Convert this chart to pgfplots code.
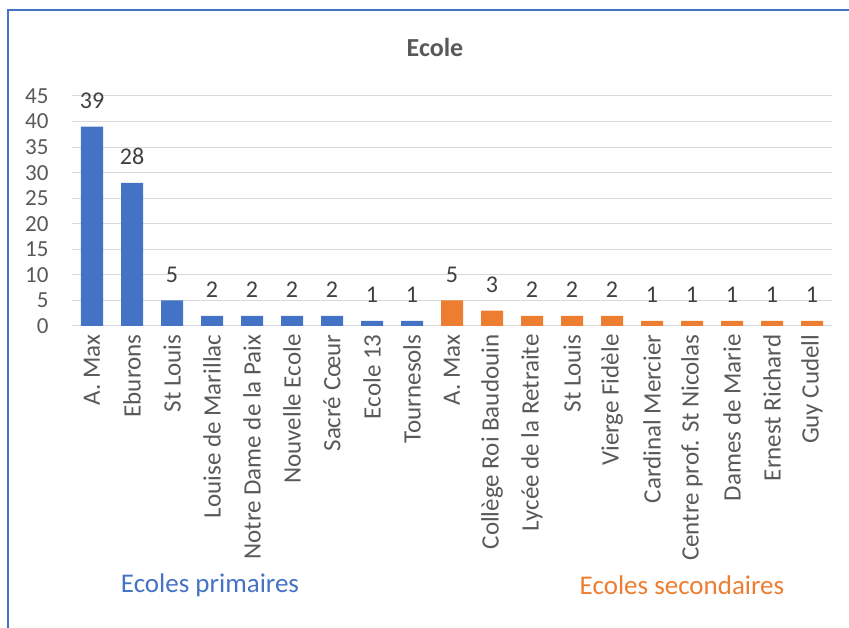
\documentclass[border=0pt]{standalone}
\usepackage{pgfplots}
\pgfplotsset{compat=1.18}
\usepackage{fontspec}
\setmainfont{Carlito}
\definecolor{xlblue}{HTML}{4472C4}
\definecolor{xlorange}{HTML}{ED7D31}
\definecolor{xlgray}{HTML}{595959}
\definecolor{xlgrid}{HTML}{D9D9D9}
\definecolor{xllabel}{HTML}{404040}

\begin{document}
\begin{tikzpicture}[x=1pt,y=1pt]
\useasboundingbox (0,0) rectangle (849,628);
\draw[xlblue, line width=2pt] (8,0) -- (8,618) -- (851,618);
\node[font=\fontsize{26}{30}\selectfont\bfseries, text=xlgray] at (435,581) {Ecole};
\begin{axis}[
  at={(72pt,302pt)}, anchor=south west,
  scale only axis, width=760pt, height=230pt,
  xmin=-0.5, xmax=18.5, ymin=0, ymax=45,
  ybar, bar width=22pt,
  axis line style={draw=none},
  ymajorgrids, grid style={xlgrid, line width=1pt},
  major tick length=0pt,
  ytick={0,5,...,45},
  xtick={0,...,18},
  xticklabels={A. Max, Eburons, St Louis, Louise de Marillac, Notre Dame de la Paix, Nouvelle Ecole, Sacré Cœur, Ecole 13, Tournesols, A. Max, Collège Roi Baudouin, Lycée de la Retraite, St Louis, Vierge Fidèle, Cardinal Mercier, Centre prof. St Nicolas, Dames de Marie, Ernest Richard, Guy Cudell},
  xticklabel style={rotate=90, anchor=east, font=\fontsize{25}{28}\selectfont, text=xlgray},
  xticklabel shift=5pt,
  yticklabel style={font=\fontsize{23}{26}\selectfont, text=xlgray, xshift=-20pt},
  /pgf/number format/assume math mode=true,
  nodes near coords,
  every node near coord/.append style={font=\fontsize{24}{27}\selectfont, text=xllabel, anchor=base, yshift=18pt},
]
\addplot[fill=xlblue, draw=none, bar shift=0pt] coordinates {
  (0,39) (1,28) (2,5) (3,2) (4,2) (5,2) (6,2) (7,1) (8,1)
};
\addplot[fill=xlorange, draw=none, bar shift=0pt] coordinates {
  (9,5) (10,3) (11,2) (12,2) (13,2) (14,1) (15,1) (16,1) (17,1) (18,1)
};
\end{axis}
\node[font=\fontsize{27}{30}\selectfont, text=xlblue] at (210,43) {Ecoles primaires};
\node[font=\fontsize{27}{30}\selectfont, text=xlorange] at (682,43) {Ecoles secondaires};
\end{tikzpicture}
\end{document}
